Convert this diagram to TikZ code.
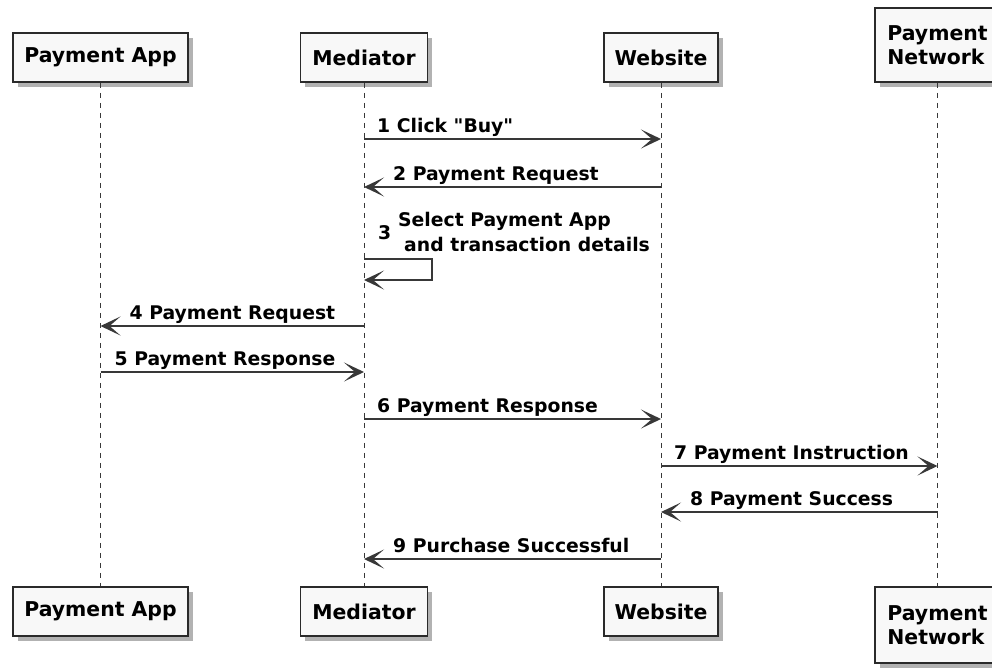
\documentclass[tikz,border=0pt]{standalone}
\usepackage{fontspec}
\setmainfont{DejaVu Sans}[Ligatures=TeXOff]
\usetikzlibrary{arrows.meta,shadows}
\definecolor{linec}{HTML}{383838}
\definecolor{boxborder}{HTML}{2A2A2A}
\definecolor{boxfill}{HTML}{F8F8F8}
\tikzset{
  participant/.style={draw=boxborder, fill=boxfill, line width=1.8pt, inner sep=0pt,
    font=\fontsize{20.4}{24}\selectfont\bfseries, align=left, text=black,
    drop shadow={shadow xshift=4.5pt, shadow yshift=-4.5pt, fill=black, opacity=0.3}},
  lifeline/.style={draw=linec, line width=1pt, dash pattern=on 5pt off 5pt},
  msg/.style={draw=linec, line width=1.4pt, -{Stealth[length=20pt,width=19pt,inset=11pt]}},
  lbl/.style={font=\fontsize{18.8}{22}\selectfont\bfseries, inner sep=0pt, anchor=base west, text=black}
}
\begin{document}
\begin{tikzpicture}[x=1pt,y=-1pt]
\useasboundingbox (0,0) rectangle (992,667);
\fill[white] (0,0) rectangle (992,667);
% top participants
\node[participant, minimum width=175pt, minimum height=49pt] (pa) at (100.5,57.5) {Payment App};
\node[participant, minimum width=127pt, minimum height=49pt] (med) at (364,57.5) {Mediator};
\node[participant, minimum width=114pt, minimum height=49pt] (web) at (661,57.5) {Website};
\node[participant, minimum width=125pt, minimum height=74pt] (pn) at (937.5,45) {Payment\\Network};
% bottom participants
\node[participant, minimum width=175pt, minimum height=49pt] (pa2) at (100.5,611.5) {Payment App};
\node[participant, minimum width=127pt, minimum height=49pt] (med2) at (364,611.5) {Mediator};
\node[participant, minimum width=114pt, minimum height=49pt] (web2) at (661,611.5) {Website};
\node[participant, minimum width=125pt, minimum height=76pt] (pn2) at (937.5,625) {Payment\\Network};
% lifelines
\draw[lifeline] (pa.south) -- (pa2.north);
\draw[lifeline] (med.south) -- (med2.north);
\draw[lifeline] (web.south) -- (web2.north);
\draw[lifeline] (pn.south) -- (pn2.north);
% message rows
\coordinate (y1) at (0,139);
\coordinate (y2) at (0,187);
\coordinate (y3a) at (0,259);
\coordinate (y3b) at (0,280);
\coordinate (y4) at (0,326);
\coordinate (y5) at (0,372);
\coordinate (y6) at (0,419);
\coordinate (y7) at (0,466);
\coordinate (y8) at (0,512);
\coordinate (y9) at (0,559);
% 1
\draw[msg] (med |- y1) -- (web |- y1);
\node[lbl] (l1) at ([shift={(13,-7)}]med |- y1) {1 Click "Buy"};
% 2
\draw[msg] (web |- y2) -- (med |- y2);
\node[lbl] (l2) at ([shift={(29,-7)}]med |- y2) {2 Payment Request};
% 3 self
\draw[msg] (med |- y3a) -- ++(68,0) -- ++(0,21) -- (med |- y3b);
\node[lbl] (l3n) at ([shift={(14,-20)}]med |- y3a) {3};
\node[lbl] (l3a) at ([shift={(34,-33)}]med |- y3a) {Select Payment App};
\node[lbl] (l3b) at ([shift={(40,-8)}]med |- y3a) {and transaction details};
% 4
\draw[msg] (med |- y4) -- (pa |- y4);
\node[lbl] (l4) at ([shift={(29,-7)}]pa |- y4) {4 Payment Request};
% 5
\draw[msg] (pa |- y5) -- (med |- y5);
\node[lbl] (l5) at ([shift={(14,-7)}]pa |- y5) {5 Payment Response};
% 6
\draw[msg] (med |- y6) -- (web |- y6);
\node[lbl] (l6) at ([shift={(13,-7)}]med |- y6) {6 Payment Response};
% 7
\draw[msg] (web |- y7) -- (pn |- y7);
\node[lbl] (l7) at ([shift={(13,-7)}]web |- y7) {7 Payment Instruction};
% 8
\draw[msg] (pn |- y8) -- (web |- y8);
\node[lbl] (l8) at ([shift={(29,-7)}]web |- y8) {8 Payment Success};
% 9
\draw[msg] (web |- y9) -- (med |- y9);
\node[lbl] (l9) at ([shift={(29,-7)}]med |- y9) {9 Purchase Successful};
\end{tikzpicture}
\end{document}
